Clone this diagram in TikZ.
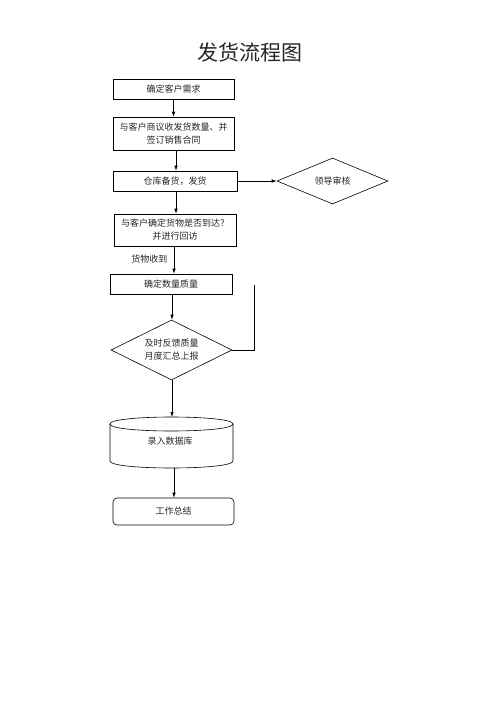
\documentclass[tikz,border=0pt]{standalone}
\usepackage{fontspec}
\newfontfamily\cjk{Noto Sans CJK SC}
\usetikzlibrary{shapes.geometric,arrows.meta}
\begin{document}
\begin{tikzpicture}[x=1pt,y=-1pt,
  every node/.style={font=\cjk\fontsize{9}{13}\selectfont, text=black!85},
  stepbox/.style={draw, line width=0.6pt, minimum width=121pt, inner sep=0pt, align=center},
  decide/.style={draw, line width=0.6pt, diamond, aspect=2, inner sep=0pt, align=center},
  arr/.style={draw, line width=0.6pt, -{Latex[length=5pt,width=3.5pt]}},
  ln/.style={draw, line width=0.6pt}]
\useasboundingbox (0,0) rectangle (500,707);
\node (title) at (250,52) {\fontsize{21}{24}\selectfont 发货流程图};
\node[stepbox, minimum height=20pt] (b1) at (173.5,89) {确定客户需求};
\node[stepbox, minimum height=33pt] (b2) at (173.5,133.5) {与客户商议收发货数量、并\\签订销售合同};
\node[stepbox, minimum width=124pt, minimum height=20pt] (b3) at (175,181) {仓库备货，发货};
\node[decide, minimum width=111pt, minimum height=46pt] (d1) at (332.5,181) {领导审核};
\node[stepbox, minimum width=122pt, minimum height=32pt] (b4) at (175,230) {与客户确定货物是否到达？\\并进行回访};
\node[stepbox, minimum width=122pt, minimum height=20pt] (b5) at (171,284) {确定数量质量};
\node[decide, minimum width=121pt, minimum height=60pt] (d2) at (171.5,350) {及时反馈质量\\月度汇总上报};
% database cylinder
\draw[ln] (110,424) -- (110,461) .. controls (110,470.33) and (233,470.33) .. (233,461) -- (233,424);
\draw[ln] (110,424) .. controls (110,414.67) and (233,414.67) .. (233,424) .. controls (233,433.33) and (110,433.33) .. cycle;
\coordinate (dbtop) at (172,417);
\coordinate (dbbot) at (174,468);
\node (db) at (170,441) {录入数据库};
\node[stepbox, rounded corners=4pt, minimum height=27pt] (b6) at (173.5,511.5) {工作总结};
\coordinate (c1) at (254,285);
\draw[arr] (b1.south) -- (b2.north);
\draw[arr] (b2.south -| 176,0) -- (b3.north -| 176,0);
\draw[arr] (b3.east) -- (d1.west);
\draw[arr] (b3.south -| 176,0) -- (b4.north -| 176,0);
\draw[arr] (b4.south -| 174,0) -- node[left, xshift=-3pt, yshift=1pt] {货物收到} (b5.north -| 174,0);
\draw[arr] (b5.south -| 172,0) -- (d2.north -| 172,0);
\draw[ln] (d2.east) -| (c1);
\draw[arr] (d2.south -| 172,0) -- (dbtop);
\draw[arr] (dbbot) -- (b6.north -| 174,0);
\end{tikzpicture}
\end{document}
